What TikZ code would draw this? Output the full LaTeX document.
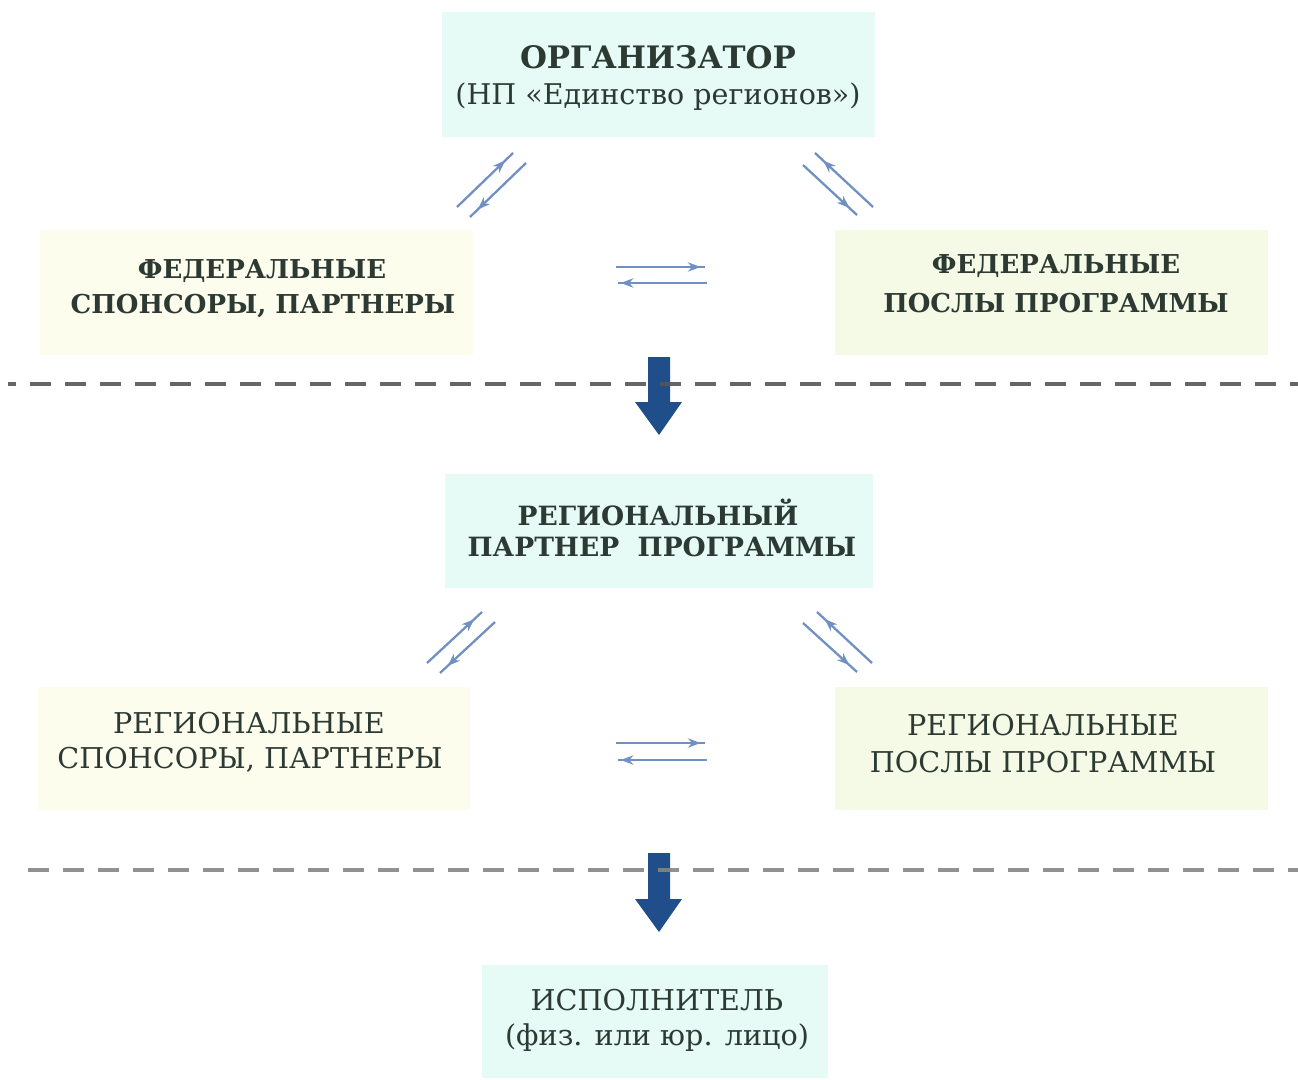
\documentclass[tikz,border=0pt]{standalone}
\usepackage{fontspec}
\setmainfont{DejaVu Serif}
\usetikzlibrary{arrows.meta,decorations.markings}
\definecolor{txtcol}{HTML}{2C3A33}
\definecolor{cyanbox}{HTML}{E6FBF5}
\definecolor{yelbox}{HTML}{FDFDEE}
\definecolor{grnbox}{HTML}{F5FAE6}
\definecolor{arrowblue}{HTML}{7090C4}
\definecolor{bigblue}{HTML}{1F4E8A}
\definecolor{dashgray}{HTML}{555555}
\definecolor{dashlight}{HTML}{858585}
\tikzset{
  boxbase/.style={inner sep=0pt, draw=none},
  cyanfill/.style={boxbase, fill=cyanbox},
  yelfill/.style={boxbase, fill=yelbox},
  grnfill/.style={boxbase, fill=grnbox},
  wide/.style={minimum width=324.75pt, minimum height=93.75pt},
  lbl/.style={inner sep=0pt, text=txtcol, anchor=center},
  hbig/.style={lbl, font=\bfseries\fontsize{23.2}{27}\selectfont},
  hsub/.style={lbl, font=\fontsize{21.4}{25}\selectfont},
  hmid/.style={lbl, font=\bfseries\fontsize{19.5}{23}\selectfont},
  hmidb/.style={lbl, font=\bfseries\fontsize{19.9}{23}\selectfont},
  hreg/.style={lbl, font=\fontsize{21.5}{25}\selectfont},
  sep/.style={line width=2.6pt, dash pattern=on 15.75pt off 10.5pt, opacity=0.9},
  tipmark/.style={postaction={decorate, decoration={markings,
      mark=at position #1 with {\arrow{Stealth[length=9.5pt,width=7pt]}}}}},
  pairline/.style={draw=arrowblue, line width=1.7pt},
  bigarrow/.style={fill=bigblue, draw=none},
}
\begin{document}
\begin{tikzpicture}[x=0.75pt,y=-0.75pt]
\useasboundingbox (0,0) rectangle (1298,1080);

% boxes
\node[cyanfill, wide] (org) at (658.5,74.5) {};
\node[yelfill, wide] (fedsp) at (256.5,292.5) {};
\node[grnfill, wide] (fedamb) at (1051.5,292.5) {};
\node[cyanfill, minimum width=321pt, minimum height=85.5pt] (regp) at (659,531) {};
\node[yelfill, minimum width=324pt, minimum height=92.25pt] (regsp) at (254,748.5) {};
\node[grnfill, wide, minimum height=92.25pt] (regamb) at (1051.5,748.5) {};
\node[cyanfill, minimum width=259.5pt, minimum height=84.75pt] (exec) at (655,1021.5) {};

% texts
\node[hbig] (orgA) at (658,57) {ОРГАНИЗАТОР};
\node[hsub] (orgB) at (658,97) {(НП «Единство регионов»)};
\node[hmid] (fedspA) at (262,271) {ФЕДЕРАЛЬНЫЕ};
\node[hmid] (fedspB) at (263,306) {СПОНСОРЫ, ПАРТНЕРЫ};
\node[hmid] (fedambA) at (1056,266) {ФЕДЕРАЛЬНЫЕ};
\node[hmid] (fedambB) at (1056,303) {ПОСЛЫ ПРОГРАММЫ};
\node[hmidb] (regpA) at (658,512) {РЕГИОНАЛЬНЫЙ};
\node[hmidb] (regpB) at (662,547) {ПАРТНЕР\ \ ПРОГРАММЫ};
\node[hreg] (regspA) at (249,723) {РЕГИОНАЛЬНЫЕ};
\node[hreg] (regspB) at (250,760) {СПОНСОРЫ, ПАРТНЕРЫ};
\node[hreg] (regambA) at (1043,725) {РЕГИОНАЛЬНЫЕ};
\node[hreg] (regambB) at (1043,762) {ПОСЛЫ ПРОГРАММЫ};
\node[hreg] (execA) at (657,1000) {ИСПОЛНИТЕЛЬ};
\node[hreg] (execB) at (657,1038) {(физ. или юр. лицо)};

% thick down arrows
\fill[bigarrow] (648,357) -- (670,357) -- (670,402) -- (682,402) -- (659,435) -- (635,402) -- (648,402) -- cycle;
\fill[bigarrow] (648,853) -- (670,853) -- (670,899) -- (682,899) -- (659,932) -- (635,899) -- (648,899) -- cycle;

% dashed separators
\coordinate (s1a) at (8,384); \coordinate (s1b) at (1298,384);
\coordinate (s2a) at (28,870); \coordinate (s2b) at (1298,870);
\draw[sep, draw=dashgray, dash phase=9.75pt] (s1a) -- (s1b);
\draw[sep, draw=dashlight] (s2a) -- (s2b);

% upper level paired arrows
\coordinate (a1) at (457,207); \coordinate (a2) at (513,153);
\coordinate (a3) at (526,163); \coordinate (a4) at (470,217);
\draw[pairline, tipmark=0.86] (a1) -- (a2);
\draw[pairline, tipmark=0.86] (a3) -- (a4);
\coordinate (b1) at (803,165); \coordinate (b2) at (857,215);
\coordinate (b3) at (873,207); \coordinate (b4) at (815,153);
\draw[pairline, tipmark=0.86] (b1) -- (b2);
\draw[pairline, tipmark=0.86] (b3) -- (b4);
\coordinate (c1) at (616,267); \coordinate (c2) at (705,267);
\coordinate (c3) at (707,283); \coordinate (c4) at (618,283);
\draw[pairline, tipmark=0.95] (c1) -- (c2);
\draw[pairline, tipmark=0.97] (c3) -- (c4);

% lower level paired arrows
\coordinate (d1) at (427,663); \coordinate (d2) at (482,612);
\coordinate (d3) at (495,622); \coordinate (d4) at (440,673);
\draw[pairline, tipmark=0.86] (d1) -- (d2);
\draw[pairline, tipmark=0.86] (d3) -- (d4);
\coordinate (e1) at (803,623); \coordinate (e2) at (857,672);
\coordinate (e3) at (872,663); \coordinate (e4) at (817,612);
\draw[pairline, tipmark=0.86] (e1) -- (e2);
\draw[pairline, tipmark=0.86] (e3) -- (e4);
\coordinate (f1) at (616,743); \coordinate (f2) at (705,743);
\coordinate (f3) at (707,760); \coordinate (f4) at (618,760);
\draw[pairline, tipmark=0.95] (f1) -- (f2);
\draw[pairline, tipmark=0.97] (f3) -- (f4);
\end{tikzpicture}
\end{document}
